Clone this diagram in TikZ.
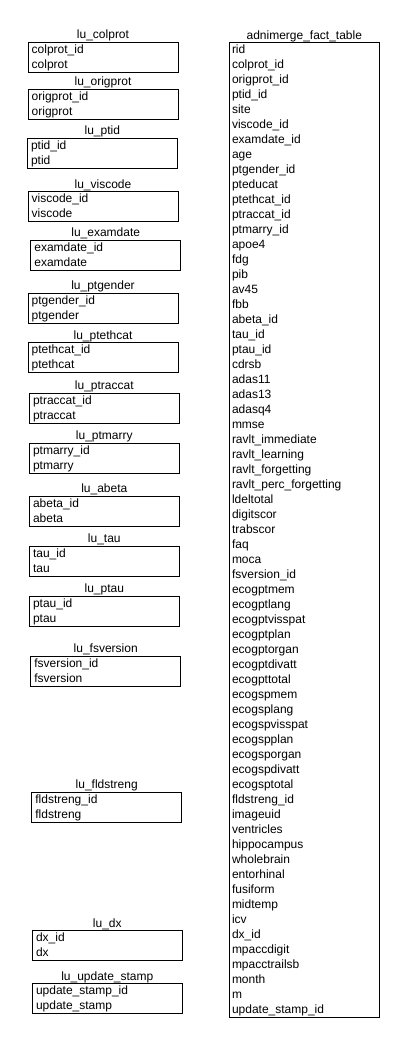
\documentclass[tikz,border=0pt]{standalone}
\usepackage{fontspec}
\setmainfont{Liberation Sans}
\tikzset{
  tbl/.style={draw, line width=1pt, rectangle, inner sep=0pt, outer sep=0pt,
    anchor=north west, minimum height=30pt, minimum width=150pt},
  facttbl/.style={draw, line width=1pt, rectangle, inner sep=0pt, outer sep=0pt,
    anchor=north west, minimum height=975pt, minimum width=150pt},
  ttl/.style={anchor=base, inner sep=0pt, font=\fontsize{12}{14}\selectfont},
  fld/.style={anchor=base west, inner sep=0pt, font=\fontsize{12}{14}\selectfont},
}
\newcommand{\lutbl}[6]{%
  \node[tbl] (#1) at (#3,#4) {};
  \node[ttl] (#1-t) at ([yshift=3.5pt]#1.north) {#2};
  \node[fld] (#1-a) at ([xshift=3.5pt,yshift=-11.2pt]#1.north west) {#5};
  \node[fld] (#1-b) at ([xshift=3.5pt,yshift=-26.2pt]#1.north west) {#6};
}
\begin{document}
\begin{tikzpicture}[x=1pt,y=-1pt]
\useasboundingbox (0,0) rectangle (405,1044);
\lutbl{colprot}{lu\_colprot}{28}{42.3}{colprot\_id}{colprot}
\lutbl{origprot}{lu\_origprot}{28}{89.3}{origprot\_id}{origprot}
\lutbl{ptid}{lu\_ptid}{27.3}{138.3}{ptid\_id}{ptid}
\lutbl{viscode}{lu\_viscode}{28}{191.7}{viscode\_id}{viscode}
\lutbl{examdate}{lu\_examdate}{30.7}{240.3}{examdate\_id}{examdate}
\lutbl{ptgender}{lu\_ptgender}{28}{293.2}{ptgender\_id}{ptgender}
\lutbl{ptethcat}{lu\_ptethcat}{28}{342.7}{ptethcat\_id}{ptethcat}
\lutbl{ptraccat}{lu\_ptraccat}{29.3}{393.3}{ptraccat\_id}{ptraccat}
\lutbl{ptmarry}{lu\_ptmarry}{29.3}{443.3}{ptmarry\_id}{ptmarry}
\lutbl{abeta}{lu\_abeta}{29.3}{496}{abeta\_id}{abeta}
\lutbl{tau}{lu\_tau}{29.3}{546}{tau\_id}{tau}
\lutbl{ptau}{lu\_ptau}{29.3}{596.3}{ptau\_id}{ptau}
\lutbl{fsversion}{lu\_fsversion}{30.7}{656}{fsversion\_id}{fsversion}
\lutbl{fldstreng}{lu\_fldstreng}{31.7}{792.3}{fldstreng\_id}{fldstreng}
\lutbl{dx}{lu\_dx}{32.3}{930.5}{dx\_id}{dx}
\lutbl{updstamp}{lu\_update\_stamp}{32.3}{983.7}{update\_stamp\_id}{update\_stamp}
\node[facttbl] (fact) at (229.3,42.7) {};
\node[ttl] (fact-t) at ([yshift=3.5pt]fact.north) {adnimerge\_fact\_table};
\foreach [count=\i from 0] \f in {rid, colprot\_id, origprot\_id, ptid\_id, site,
  viscode\_id, examdate\_id, age, ptgender\_id, pteducat, ptethcat\_id, ptraccat\_id,
  ptmarry\_id, apoe4, fdg, pib, av45, fbb, abeta\_id, tau\_id, ptau\_id, cdrsb,
  adas11, adas13, adasq4, mmse, ravlt\_immediate, ravlt\_learning, ravlt\_forgetting,
  ravlt\_perc\_forgetting, ldeltotal, digitscor, trabscor, faq, moca, fsversion\_id,
  ecogptmem, ecogptlang, ecogptvisspat, ecogptplan, ecogptorgan, ecogptdivatt,
  ecogpttotal, ecogspmem, ecogsplang, ecogspvisspat, ecogspplan, ecogsporgan,
  ecogspdivatt, ecogsptotal, fldstreng\_id, imageuid, ventricles, hippocampus,
  wholebrain, entorhinal, fusiform, midtemp, icv, dx\_id, mpaccdigit, mpacctrailsb,
  month, m, update\_stamp\_id}
  \node[fld] (fact-\i) at ([xshift=2.5pt,yshift={-(11.2+15*\i)*1pt}]fact.north west) {\f};
\end{tikzpicture}
\end{document}
